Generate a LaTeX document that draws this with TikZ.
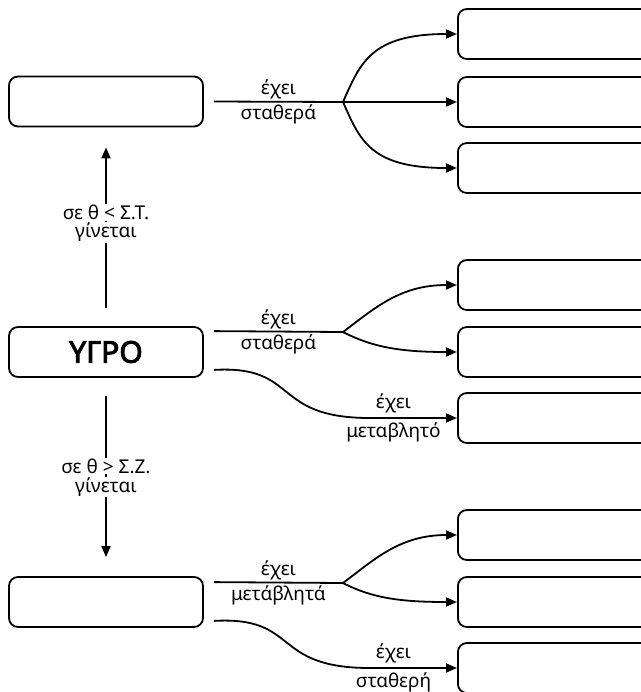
\documentclass[tikz,border=0pt]{standalone}
\usepackage{fontspec}
\setmainfont{Noto Sans}
\newfontfamily\heavyfont{Noto Sans}[FakeBold=3]
\usetikzlibrary{positioning, arrows.meta}

\begin{document}
\begin{tikzpicture}[x=0.5pt, y=-0.5pt,
        box/.style={draw, line width=0.9pt, rounded corners=4.5pt, minimum height=25pt, inner sep=0pt},
        leftbox/.style={box, minimum width=97pt},
        rightbox/.style={box, minimum width=115pt, anchor=west},
        wire/.style={line width=0.9pt},
        conn/.style={wire, -{Triangle[length=5.5pt,width=4.5pt]}},
        tag/.style={font=\fontsize{9.5}{11}\selectfont, inner sep=1pt},
        cond/.style={tag, fill=white, inner sep=0.5pt}]

        \useasboundingbox (0,0) rectangle (641,692);

        % draw left boxes
        \node[leftbox] (solid) at (106,101.5) {};
        \node[leftbox, font=\heavyfont\fontsize{15}{18}\selectfont] (liquid) at (106,352) {ΥΓΡΟ};
        \node[leftbox] (gas) at (106,602) {};

        % draw right boxes
        \foreach \y/\name in {34/s1, 102/s2, 168/s3, 285/l1, 352/l2, 418/l3, 535/g1, 602/g2, 668/g3}
        \node[rightbox] (\name) at (457,\y) {};

        % vertical arrows
        \draw[conn] ([yshift=9pt]liquid.north) -- node[cond, pos=.595] {σε θ < Σ.Τ.} node[cond, pos=.47] {γίνεται} ([yshift=-10pt]solid.south);
        \draw[conn] ([yshift=-9pt]liquid.south) -- node[cond, pos=.435] {σε θ > Σ.Ζ.} node[cond, pos=.565] {γίνεται} ([yshift=9.5pt]gas.north);

        % branches of the solid
        \coordinate (sb) at (343,102);
        \draw[wire] ([xshift=5pt]solid.east) -- node[tag, above] {έχει} node[tag, below] {σταθερά} (sb);
        \draw[conn] (sb) .. controls (360,64) and (370,34) .. (s1.west);
        \draw[conn] (sb) -- (s2);
        \draw[conn] (sb) .. controls (360,140) and (370,168) .. (s3.west);

        % branches of the liquid
        \coordinate (lb) at (343,332);
        \draw[wire] ([xshift=5pt,yshift=-2.5pt]liquid.north east) -- node[tag, above] {έχει} node[tag, below] {σταθερά} (lb);
        \draw[conn] (lb) .. controls (375,308) and (400,285) .. (l1.west);
        \draw[conn] (lb) .. controls (372,347) and (400,352) .. (l2.west);
        \draw[conn] ([xshift=5pt,yshift=4pt]liquid.south east) .. controls (300,365) and (270,418) .. (370,418)
            -- node[tag, above=1pt, pos=.27] {έχει} node[tag, below=1pt, pos=.27] {μεταβλητό} (l3.west);

        % branches of the gas
        \coordinate (gb) at (343,583);
        \draw[wire] ([xshift=5pt,yshift=-3pt]gas.north east) -- node[tag, above] {έχει} node[tag, below] {μετάβλητά} (gb);
        \draw[conn] (gb) .. controls (375,559) and (400,535) .. (g1.west);
        \draw[conn] (gb) .. controls (372,598) and (400,602) .. (g2.west);
        \draw[conn] ([xshift=5pt,yshift=3.5pt]gas.south east) .. controls (300,616) and (270,668) .. (370,668)
            -- node[tag, above=1pt, pos=.27] {έχει} node[tag, below=1pt, pos=.27] {σταθερή} (g3.west);
    \end{tikzpicture}
\end{document}
